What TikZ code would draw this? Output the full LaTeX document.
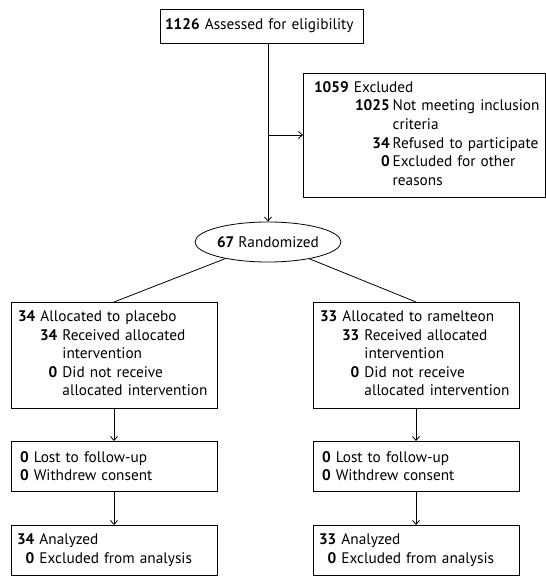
\documentclass[tikz,border=0pt]{standalone}
\usepackage{fontspec}
\setmainfont{PT Sans}
\usetikzlibrary{arrows.meta,shapes.geometric}

\begin{document}
\begin{tikzpicture}[x=1pt, y=-1pt,
		box/.style={draw=black, line width=0.8pt, anchor=north west, align=left, outer sep=0pt, inner ysep=0pt, font=\fontsize{15.3}{18.6}\selectfont},
		link/.style={draw=black, line width=0.8pt},
		arr/.style={draw=black, line width=0.8pt, -{Straight Barb[length=4pt, width=7pt]}}]
		\useasboundingbox (0,0) rectangle (545,577);
		\node[box, text width=193pt, minimum height=34pt, inner xsep=5pt] (assess) at (160,9) {\textbf{1126} Assessed for eligibility};
		\node[box, text width=220pt, minimum height=124pt, inner xsep=11pt] (excl) at (303,73) {\begin{tabular}{@{}p{41pt}@{}r@{\hspace{3pt}}l@{}}
			\multicolumn{3}{@{}l@{}}{\textbf{1059} Excluded}\\
			& \textbf{1025} & Not meeting inclusion\\
			& & criteria\\
			& \textbf{34} & Refused to participate\\
			& \textbf{0} & Excluded for other\\
			& & reasons
		\end{tabular}};
		\node[ellipse, draw=black, line width=0.8pt, minimum width=146pt, minimum height=40pt, inner sep=0pt, font=\fontsize{15.3}{18.6}\selectfont] (rand) at (268,242) {\textbf{67} Randomized};
		\node[box, text width=192pt, minimum height=106pt, inner xsep=7pt] (allocL) at (11,302) {\begin{tabular}{@{}p{22pt}@{}r@{\ }l@{}}
			\multicolumn{3}{@{}l@{}}{\textbf{34} Allocated to placebo}\\
			& \textbf{34} & Received allocated\\
			& & intervention\\
			& \textbf{0} & Did not receive\\
			& & allocated intervention
		\end{tabular}};
		\node[box, text width=192pt, minimum height=106pt, inner xsep=7pt] (allocR) at (313,302) {\begin{tabular}{@{}p{22pt}@{}r@{\ }l@{}}
			\multicolumn{3}{@{}l@{}}{\textbf{33} Allocated to ramelteon}\\
			& \textbf{33} & Received allocated\\
			& & intervention\\
			& \textbf{0} & Did not receive\\
			& & allocated intervention
		\end{tabular}};
		\node[box, text width=188pt, minimum height=50pt, inner xsep=9pt] (followL) at (11,441) {\textbf{0} Lost to follow-up\\ \textbf{0} Withdrew consent};
		\node[box, text width=188pt, minimum height=50pt, inner xsep=9pt] (followR) at (313,441) {\textbf{0} Lost to follow-up\\ \textbf{0} Withdrew consent};
		\node[box, text width=194pt, minimum height=50pt, inner xsep=6pt] (anaL) at (11,525) {\begin{tabular}{@{}r@{\ }l@{}}
			\textbf{34} & Analyzed\\
			\textbf{0} & Excluded from analysis
		\end{tabular}};
		\node[box, text width=194pt, minimum height=50pt, inner xsep=6pt] (anaR) at (313,525) {\begin{tabular}{@{}r@{\ }l@{}}
			\textbf{33} & Analyzed\\
			\textbf{0} & Excluded from analysis
		\end{tabular}};
		\coordinate (branch) at (rand |- excl.west);
		\draw[arr] (assess.south -| rand.north) -- (rand.north);
		\draw[arr] (branch) -- (excl.west);
		\draw[link] (rand) -- (allocL.north);
		\draw[link] (rand) -- (allocR.north);
		\draw[arr] (allocL) -- (followL);
		\draw[arr] (allocR) -- (followR);
		\draw[arr] (followL) -- (anaL);
		\draw[arr] (followR) -- (anaR);
	\end{tikzpicture}
\end{document}
